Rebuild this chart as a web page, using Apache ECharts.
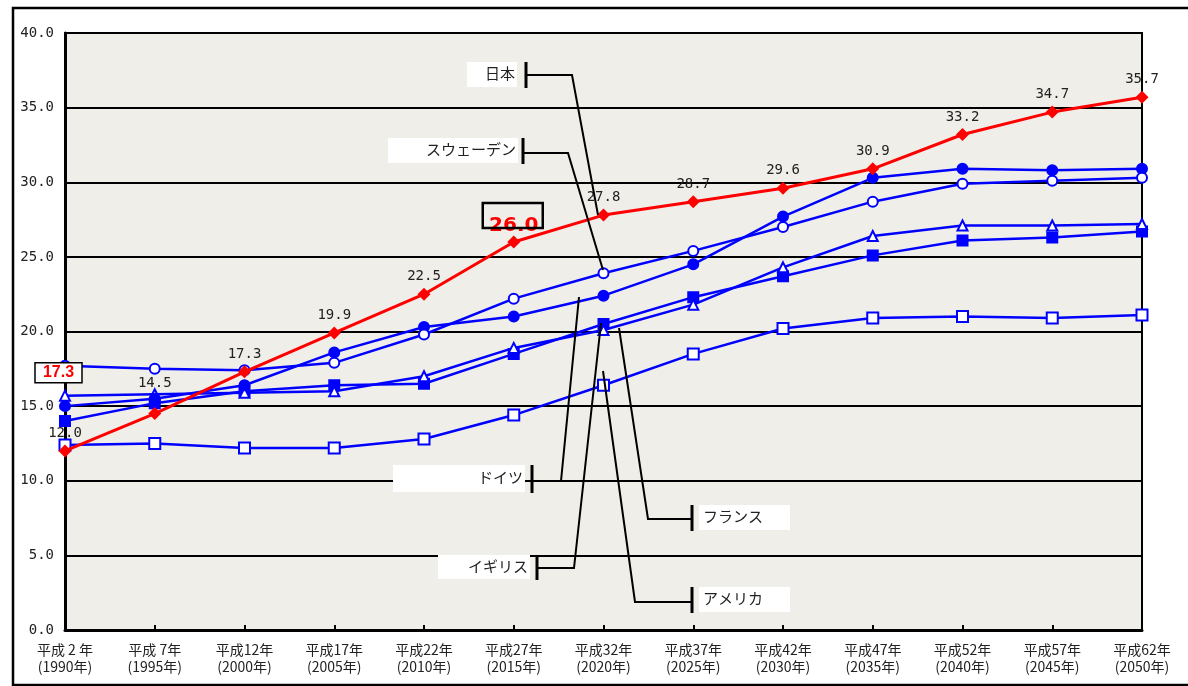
<!DOCTYPE html>
<html>
<head>
<meta charset="utf-8">
<script src="https://cdn.jsdelivr.net/npm/echarts@6/dist/echarts.min.js"></script>
<style>
  html, body { margin: 0; padding: 0; background: #ffffff; }
  #chart { width: 1188px; height: 686px; }
</style>
</head>
<body>
<div id="chart"></div>
<script>
// Era / calendar-year categories
const eraLabels = ['平成 2 年', '平成 7年', '平成12年', '平成17年', '平成22年', '平成27年', '平成32年',
  '平成37年', '平成42年', '平成47年', '平成52年', '平成57年', '平成62年'];
const yearLabels = ['(1990年)', '(1995年)', '(2000年)', '(2005年)', '(2010年)', '(2015年)', '(2020年)',
  '(2025年)', '(2030年)', '(2035年)', '(2040年)', '(2045年)', '(2050年)'];

// Share of population aged 65+ (%)
const japan   = [12.0, 14.5, 17.3, 19.9, 22.5, 26.0, 27.8, 28.7, 29.6, 30.9, 33.2, 34.7, 35.7];
const sweden  = [17.7, 17.5, 17.4, 17.9, 19.8, 22.2, 23.9, 25.4, 27.0, 28.7, 29.9, 30.1, 30.3];
const germany = [15.0, 15.5, 16.4, 18.6, 20.3, 21.0, 22.4, 24.5, 27.7, 30.3, 30.9, 30.8, 30.9];
const uk      = [15.7, 15.8, 15.9, 16.0, 17.0, 18.9, 20.1, 21.8, 24.3, 26.4, 27.1, 27.1, 27.2];
const france  = [14.0, 15.2, 16.0, 16.4, 16.5, 18.5, 20.5, 22.3, 23.7, 25.1, 26.1, 26.3, 26.7];
const usa     = [12.4, 12.5, 12.2, 12.2, 12.8, 14.4, 16.4, 18.5, 20.2, 20.9, 21.0, 20.9, 21.1];

// Highlighted callout values
const sweden1990Callout = 17.3;
const japanHighlightIndex = 5;

const countryNames = ['日本', 'スウェーデン', 'ドイツ', 'イギリス', 'フランス', 'アメリカ'];

const categories = eraLabels.map((e, i) => e + '\n' + yearLabels[i]);

const BLUE = '#0000ff';
const RED = '#ff0000';
const MONO = '"DejaVu Sans Mono", monospace';
const JP = '"Noto Sans CJK JP", sans-serif';

function blueSeries(name, data, symbol, filled, size) {
  return {
    name, type: 'line', data,
    symbol, symbolSize: size,
    lineStyle: { color: BLUE, width: 2.5 },
    itemStyle: { color: filled ? BLUE : '#ffffff', borderColor: BLUE, borderWidth: 2 },
    emphasis: { disabled: true },
    animation: false
  };
}

const japanData = japan.map((v, i) => {
  if (i === 1) return { value: v, label: { distance: 17 } };
  if (i === japanHighlightIndex) {
    return { value: v, label: { color: RED, fontFamily: '"DejaVu Sans", sans-serif', fontWeight: 'bold', fontSize: 20, distance: 0 } };
  }
  return v;
});

const chart = echarts.init(document.getElementById('chart'), null, { renderer: 'canvas' });

chart.setOption({
  backgroundColor: '#ffffff',
  animation: false,
  grid: {
    left: 65, right: 46, top: 33, bottom: 56,
    show: true, backgroundColor: '#efeee8', borderColor: '#000', borderWidth: 2,
    outerBoundsMode: 'none'
  },
  xAxis: {
    type: 'category', data: categories, boundaryGap: false,
    axisLine: { lineStyle: { color: '#000', width: 3 } },
    axisTick: { show: true, inside: true, length: 5, alignWithLabel: true, lineStyle: { color: '#000', width: 2 } },
    axisLabel: { color: '#222', fontFamily: JP, fontSize: 14, lineHeight: 17, margin: 11, interval: 0 },
    splitLine: { show: false }
  },
  yAxis: {
    type: 'value', min: 0, max: 40, interval: 5,
    axisLine: { show: true, lineStyle: { color: '#000', width: 3 } },
    axisTick: { show: false },
    axisLabel: { color: '#222', fontFamily: MONO, fontSize: 14, margin: 11, formatter: v => v.toFixed(1) },
    splitLine: { show: true, lineStyle: { color: '#000', width: 2 } }
  },
  series: [
    blueSeries(countryNames[5], usa, 'rect', false, 11),
    blueSeries(countryNames[4], france, 'rect', true, 10),
    blueSeries(countryNames[3], uk, 'triangle', false, 10),
    blueSeries(countryNames[2], germany, 'circle', true, 10),
    blueSeries(countryNames[1], sweden, 'circle', false, 10),
    {
      name: countryNames[0], type: 'line', data: japanData,
      symbol: 'diamond', symbolSize: 13,
      lineStyle: { color: RED, width: 3 },
      itemStyle: { color: RED },
      label: {
        show: true, position: 'top', distance: 4,
        color: '#222', fontFamily: MONO, fontSize: 14,
        formatter: p => Number(p.value).toFixed(1)
      },
      emphasis: { disabled: true },
      z: 5
    }
  ]
});

// Annotations: callout boxes, country name tags and leader lines
const hi = chart.convertToPixel({ seriesIndex: 5 }, [japanHighlightIndex, japan[japanHighlightIndex]]);
const sw = chart.convertToPixel({ xAxisIndex: 0, yAxisIndex: 0 }, [0, sweden1990Callout]);

const g = [];
const ink = { stroke: '#000', lineWidth: 2, fill: null };

// Outer frame
g.push({ type: 'rect', shape: { x: 13, y: 8, width: 1190, height: 677 }, style: { stroke: '#000', lineWidth: 2.5, fill: null }, z: 100, silent: true });

// Box round the highlighted Japan value
g.push({ type: 'rect', shape: { x: hi[0] - 31, y: hi[1] - 39, width: 60, height: 25 }, style: { stroke: '#000', lineWidth: 2.5, fill: null }, z: 100, silent: true });

// Boxed red value at the left edge
g.push({ type: 'rect', shape: { x: sw[0] - 30, y: sw[1] - 9, width: 47, height: 20 }, style: { stroke: '#000', lineWidth: 1.5, fill: '#ffffff' }, z: 100, silent: true });
g.push({ type: 'text', x: sw[0] - 6.5, y: sw[1] + 1, style: { text: sweden1990Callout.toFixed(1), fill: RED, font: 'bold 16px "Liberation Sans", Arial, sans-serif', align: 'center', verticalAlign: 'middle' }, z: 101, silent: true });

// Country tags: [name, boxLeft, boxTop, boxRight, boxBottom, textAlign, tickX, leader points]
const tags = [
  [countryNames[0], 467, 62, 517, 87, 'right', 526, [[526, 75], [572, 75], [598, 215]]],
  [countryNames[1], 388, 138, 518, 163, 'right', 523, [[523, 153], [568, 153], [603, 270]]],
  [countryNames[2], 393, 465, 525, 492, 'right', 532, [[532, 481], [561, 481], [579, 297]]],
  [countryNames[3], 438, 555, 530, 579, 'right', 537, [[537, 568], [574, 568], [601, 323]]],
  [countryNames[4], 699, 505, 790, 530, 'left', 692, [[692, 519], [648, 519], [619, 328]]],
  [countryNames[5], 699, 587, 790, 612, 'left', 692, [[692, 602], [635, 602], [603, 371]]]
];

tags.forEach(([name, x0, y0, x1, y1, align, tx, pts]) => {
  g.push({ type: 'rect', shape: { x: x0, y: y0, width: x1 - x0, height: y1 - y0 }, style: { fill: '#ffffff' }, z: 100, silent: true });
  g.push({
    type: 'text', x: align === 'right' ? x1 - 2 : x0 + 4, y: (y0 + y1) / 2 - 1,
    style: { text: name, fill: '#222', font: '15px "Noto Sans CJK JP", sans-serif', align, verticalAlign: 'middle' },
    z: 101, silent: true
  });
  g.push({ type: 'line', shape: { x1: tx, y1: y0, x2: tx, y2: y1 + 1 }, style: { stroke: '#000', lineWidth: 3 }, z: 101, silent: true });
  g.push({ type: 'polyline', shape: { points: pts }, style: ink, z: 101, silent: true });
});

chart.setOption({ graphic: g });
</script>
</body>
</html>
